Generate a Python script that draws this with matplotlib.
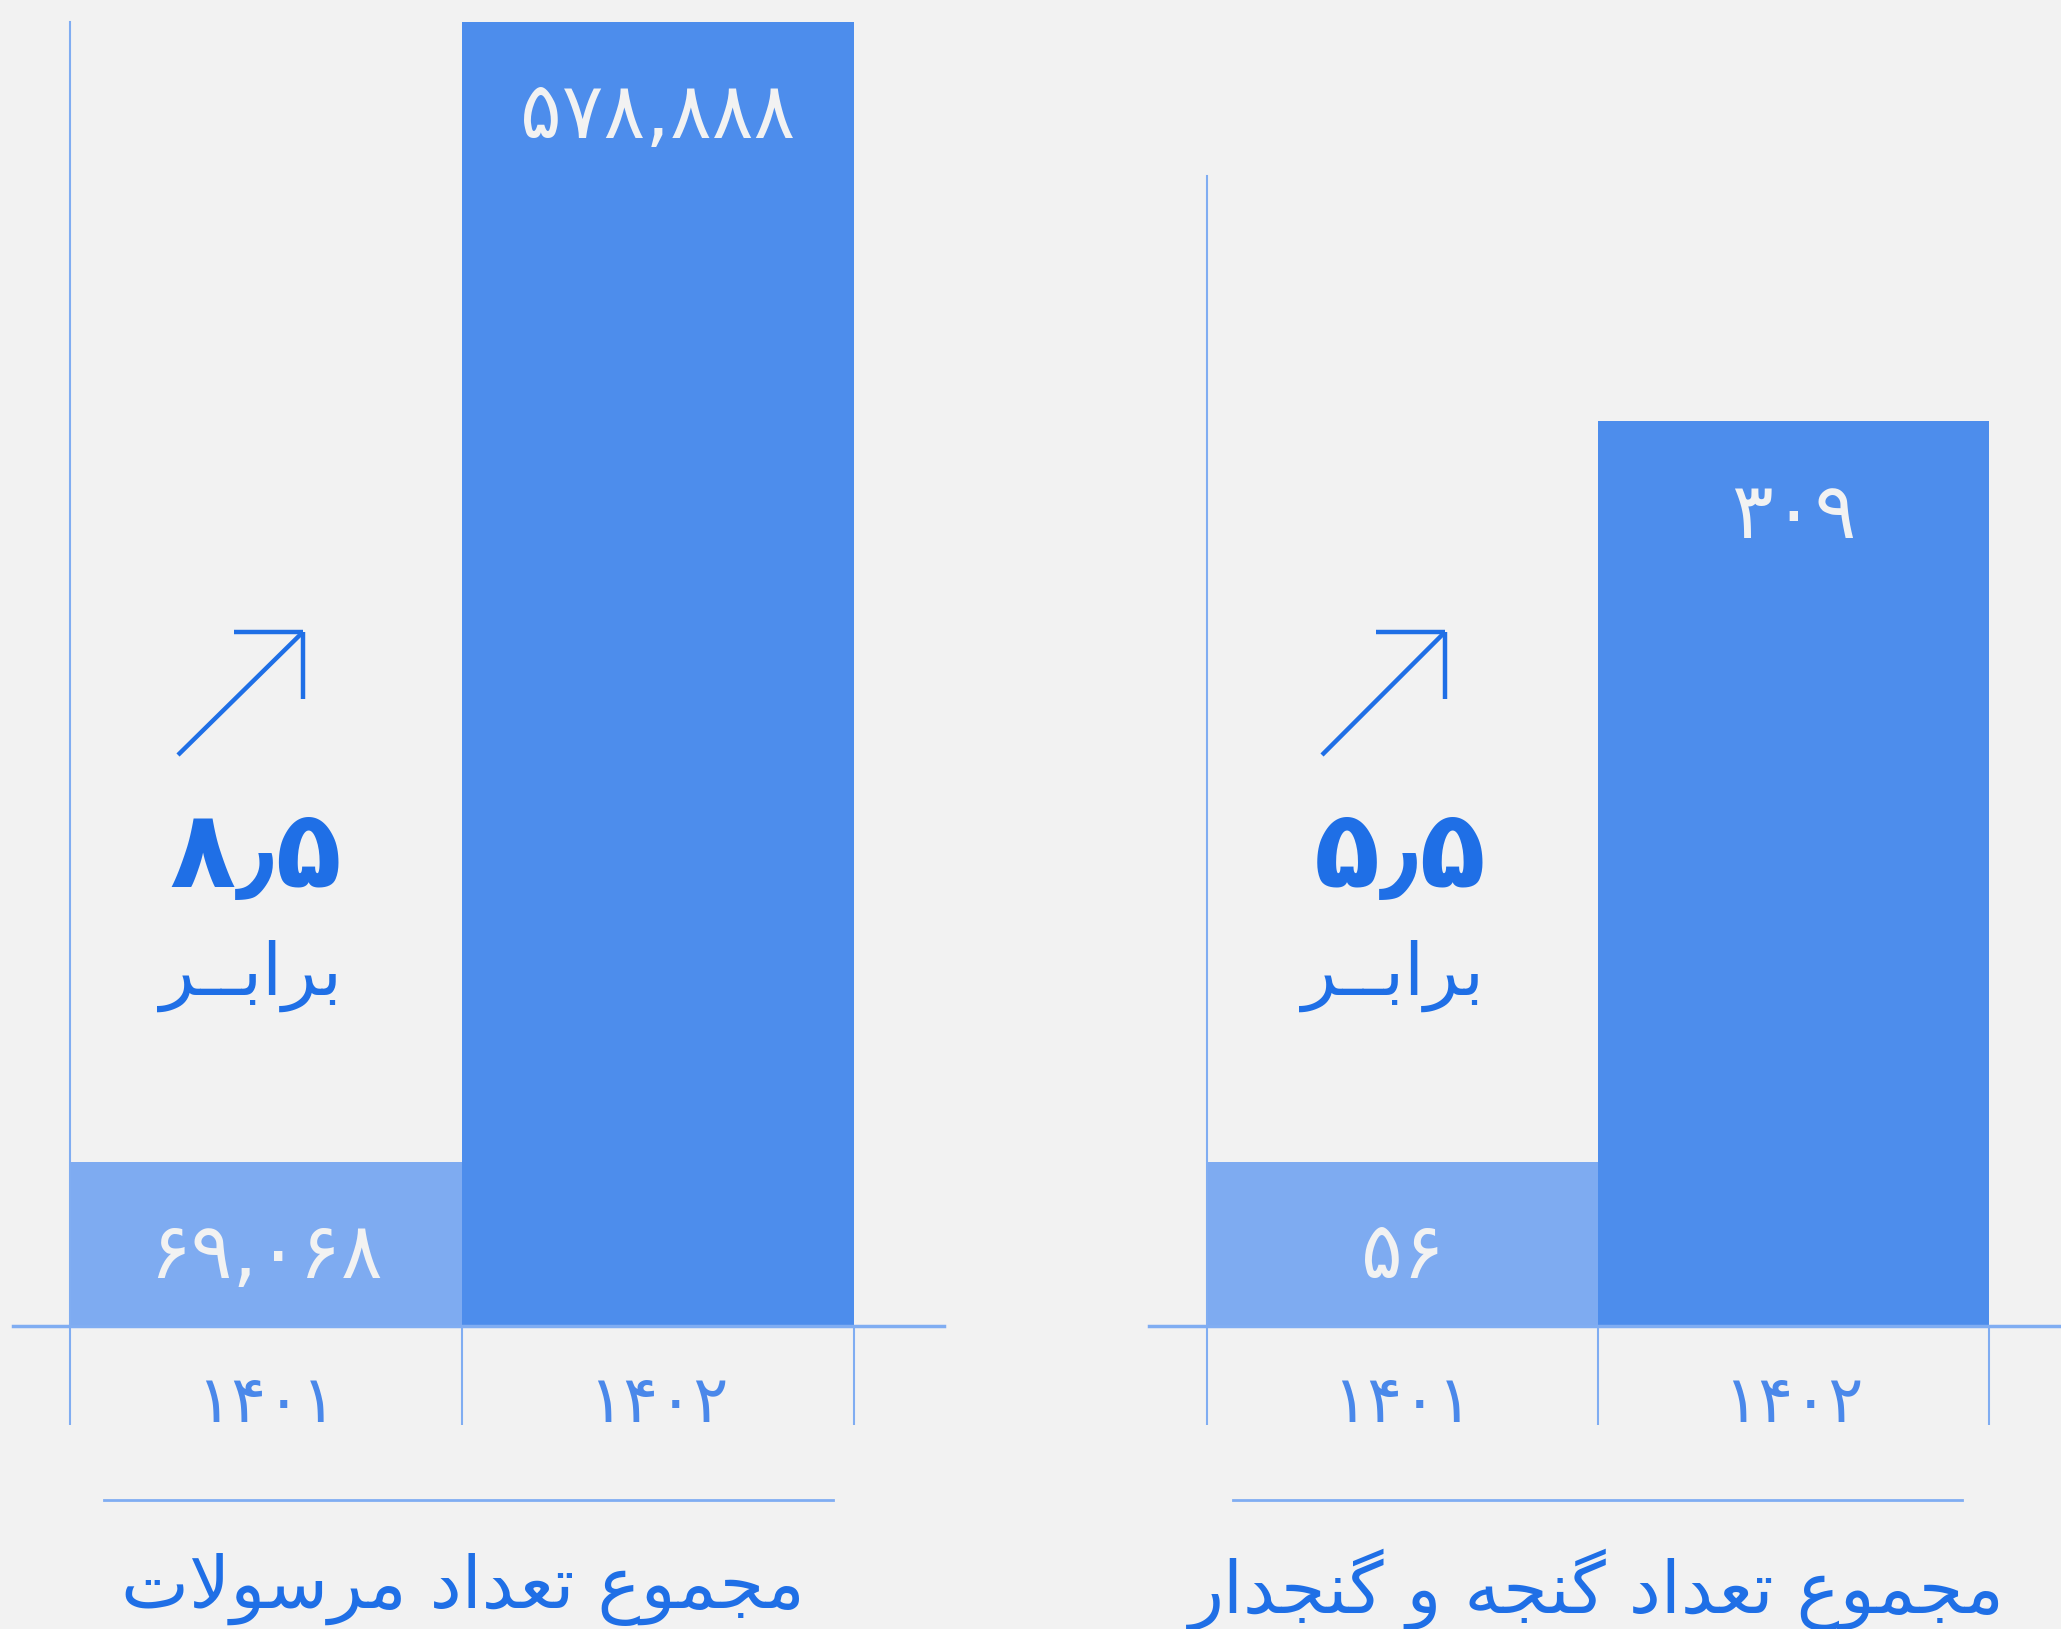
import matplotlib
matplotlib.use('Agg')
import matplotlib.pyplot as plt
from matplotlib.lines import Line2D

# data
years = ['1401', '1402']
parcels = [69068, 578888]      # مرسولات
lockers = [56, 309]            # گنجه و گنجدار
growth = [8.5, 5.5]
titles = ['مجموع تعداد مرسولات', 'مجموع تعداد گنجه و گنجدار']
times_word = 'برابــر'

bg = '#f2f2f2'
light = '#7eabf1'
dark = '#4d8dec'
line_c = '#80adf2'
text_blue = '#1f6fe6'
tick_blue = '#4a88ea'

plt.rcParams['font.family'] = ['DejaVu Sans']

# minimal arabic/persian shaping (matplotlib has no shaping / bidi)
FORMS = {  # isolated, final, initial, medial
    'ا': ('\uFE8D', '\uFE8E', None, None),
    'ب': ('\uFE8F', '\uFE90', '\uFE91', '\uFE92'),
    'ت': ('\uFE95', '\uFE96', '\uFE97', '\uFE98'),
    'ج': ('\uFE9D', '\uFE9E', '\uFE9F', '\uFEA0'),
    'د': ('\uFEA9', '\uFEAA', None, None),
    'ر': ('\uFEAD', '\uFEAE', None, None),
    'س': ('\uFEB1', '\uFEB2', '\uFEB3', '\uFEB4'),
    'ع': ('\uFEC9', '\uFECA', '\uFECB', '\uFECC'),
    'ل': ('\uFEDD', '\uFEDE', '\uFEDF', '\uFEE0'),
    'م': ('\uFEE1', '\uFEE2', '\uFEE3', '\uFEE4'),
    'ن': ('\uFEE5', '\uFEE6', '\uFEE7', '\uFEE8'),
    'ه': ('\uFEE9', '\uFEEA', '\uFEEB', '\uFEEC'),
    'و': ('\uFEED', '\uFEEE', None, None),
    'گ': ('\uFB92', '\uFB93', '\uFB94', '\uFB95'),
    'ـ': ('\u0640', '\u0640', '\u0640', '\u0640'),
}


def joins_next(c):
    return c in FORMS and FORMS[c][2] is not None


def shape(text):
    res = []
    i = 0
    while i < len(text):
        c = text[i]
        prev = text[i - 1] if i > 0 else ''
        from_prev = joins_next(prev) and c in FORMS
        if c == 'ل' and i + 1 < len(text) and text[i + 1] == 'ا':
            res.append('\uFEFC' if from_prev else '\uFEFB')
            i += 2
            continue
        if c not in FORMS:
            res.append(c)
            i += 1
            continue
        nxt = text[i + 1] if i + 1 < len(text) else ''
        to_next = joins_next(c) and nxt in FORMS
        iso, fin, ini, med = FORMS[c]
        if from_prev and to_next:
            res.append(med)
        elif from_prev:
            res.append(fin)
        elif to_next:
            res.append(ini)
        else:
            res.append(iso)
        i += 1
    return ''.join(reversed(res))


FA = str.maketrans('0123456789.', '۰۱۲۳۴۵۶۷۸۹٫')


def fa(s):
    return str(s).translate(FA)


W, H = 2061, 1629
fig = plt.figure(figsize=(W / 100, H / 100), dpi=100)
fig.patch.set_facecolor(bg)


def fx(x):
    return x / W


def fy(y):
    return 1 - y / H


panels = [
    dict(vals=parcels, rect=[fx(70), fy(1326), 784 / W, 1304 / H], ymax=549000,
         base=(-0.073, 1.115), sep=(104, 833), cx=463, arrow=(178, 303), big=256, word=251),
    dict(vals=lockers, rect=[fx(1207), fy(1326), 782 / W, 1150 / H], ymax=392.7,
         base=(-0.074, 1.092), sep=(1233, 1962), cx=1597, arrow=(1322, 1445), big=1400, word=1393),
]

for k, p in enumerate(panels):
    ax = fig.add_axes(p['rect'])
    ax.set_facecolor('none')
    ax.bar([0, 1], p['vals'], width=1, align='edge', color=[light, dark], zorder=2)
    ax.set_xlim(0, 2)
    ax.set_ylim(0, p['ymax'])
    for s in ['top', 'right', 'bottom']:
        ax.spines[s].set_visible(False)
    ax.spines['left'].set_color(line_c)
    ax.spines['left'].set_linewidth(1.5)
    ax.set_yticks([])
    ax.axhline(0, xmin=p['base'][0], xmax=p['base'][1], color=line_c, lw=2.5,
               clip_on=False, zorder=3)
    ax.set_xticks([0, 1, 2])
    ax.tick_params(axis='x', which='major', length=71, width=1.5, color=line_c,
                   labelbottom=False)
    ax.set_xticks([0.5, 1.5], labels=[fa(y) for y in years], minor=True)
    ax.tick_params(axis='x', which='minor', length=0, pad=33, labelsize=47,
                   labelcolor=tick_blue)

    for i, v in enumerate(p['vals']):
        ax.annotate(fa(f'{v:,}'), (i + 0.5, min(v, p['ymax'])), xytext=(0, -68),
                    textcoords='offset points', ha='center', va='center',
                    color=bg, fontsize=56, zorder=4)

    # arrow + growth text
    a0, a1 = p['arrow']
    for xs, ys in [([a0, a1], [755, 632]), ([a1 - 69, a1], [632, 632]), ([a1, a1], [632, 699])]:
        fig.add_artist(Line2D([fx(x) for x in xs], [fy(y) for y in ys], color=text_blue,
                              lw=3.2, solid_capstyle='butt'))
    fig.text(fx(p['big']), fy(857), fa(growth[k]), ha='center', va='center',
             fontsize=78, fontweight='bold', color=text_blue)
    fig.text(fx(p['word']), fy(976), shape(times_word), ha='center', va='center',
             fontsize=52, color=text_blue)

    fig.add_artist(Line2D([fx(p['sep'][0]), fx(p['sep'][1])], [fy(1500)] * 2,
                          color=line_c, lw=2))
    fig.text(fx(p['cx']), fy(1590), shape(titles[k]), ha='center', va='center',
             fontsize=52, color=text_blue)

fig.savefig('out.png', dpi=100, facecolor=bg)
